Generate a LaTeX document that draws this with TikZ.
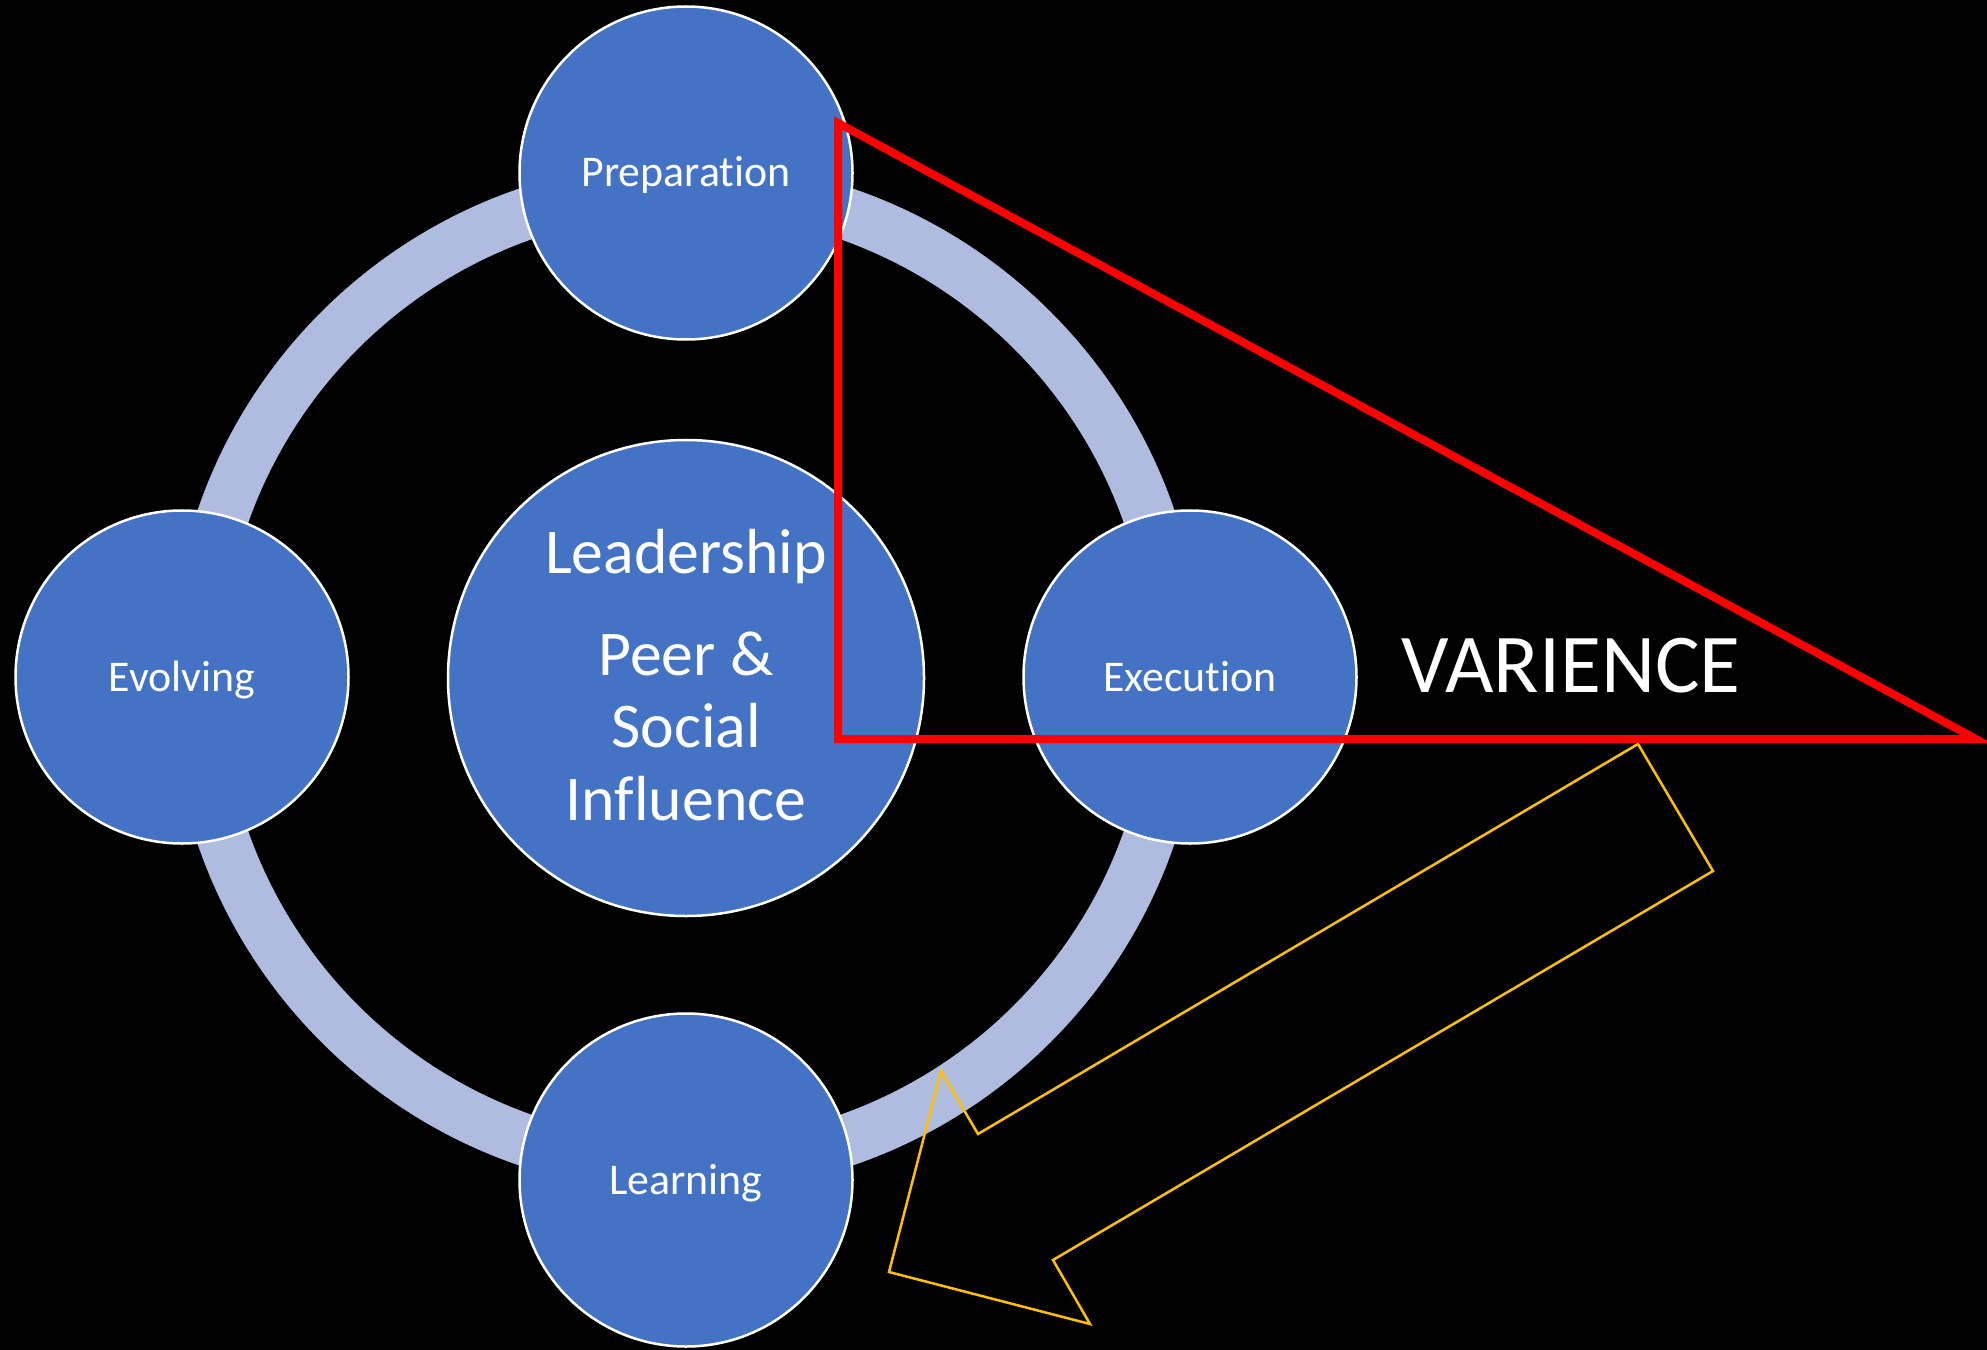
\documentclass[tikz,border=0pt]{standalone}
\usepackage{fontspec}
\setmainfont{Carlito}[Ligatures=NoCommon]
\definecolor{bluefill}{HTML}{4472C4}
\definecolor{ringcol}{HTML}{AFBCDF}
\definecolor{varred}{HTML}{FF0000}
\definecolor{arrowyel}{HTML}{FFC000}
\begin{document}
\begin{tikzpicture}[x=1bp,y=-1bp,
  stage/.style={circle, fill=bluefill, draw=white, line width=2.5bp, minimum size=333bp, inner sep=0pt, text=white, font=\fontsize{44}{52}\selectfont, text height=28bp, text depth=0pt},
  hub/.style={circle, fill=bluefill, draw=white, line width=2.5bp, minimum size=476bp, inner sep=0pt},
  hubtext/.style={anchor=base, text=white, font=\fontsize{64}{72}\selectfont, inner sep=0pt},
  bigtext/.style={anchor=base, text=white, font=\fontsize{84}{96}\selectfont, inner sep=0pt},
  tri/.style={draw=varred, line width=8bp, line join=miter},
  bentarrow/.style={draw=arrowyel, line width=2.5bp, line join=miter}
]
\fill[black] (0,0) rectangle (1987,1350);
\useasboundingbox (0,0) rectangle (1987,1350);
\coordinate (c) at (686,677);
\draw[ringcol, line width=52bp] (c) circle (490bp);
\node[stage] (prep) at (686,173) {Preparation};
\node[stage] (exec) at (1190,677) {Execution};
\node[stage] (learn) at (686,1180) {Learning};
\node[stage] (evol) at (182,677) {Evolving};
\node[hub] (hub) at (686,678) {};
\node[hubtext] (l1) at ([yshift=105bp]hub.center) {Leadership};
\node[hubtext] (l2) at ([yshift=3bp]hub.center) {Peer \&};
\node[hubtext] (l3) at ([yshift=-69bp]hub.center) {Social};
\node[hubtext] (l4) at ([yshift=-142bp]hub.center) {Influence};
% red triangle
\coordinate (t1) at (838,123);
\coordinate (t2) at (838,739);
\coordinate (t3) at (1976,739);
\draw[tri] (t1) -- (t2) -- (t3) -- cycle;
\node[bigtext] (var) at (1571,692) {VARIENCE};
% yellow bent arrow outline
\coordinate (a1) at (1638,744);
\coordinate (a2) at (1713,871);
\coordinate (a3) at (1053,1260);
\coordinate (a4) at (1090,1324);
\coordinate (a5) at (889,1272);
\coordinate (a6) at (941,1071);
\coordinate (a7) at (978,1134);
\draw[bentarrow] (a1) -- (a2) -- (a3) -- (a4) -- (a5) -- (a6) -- (a7) -- cycle;
\end{tikzpicture}
\end{document}
